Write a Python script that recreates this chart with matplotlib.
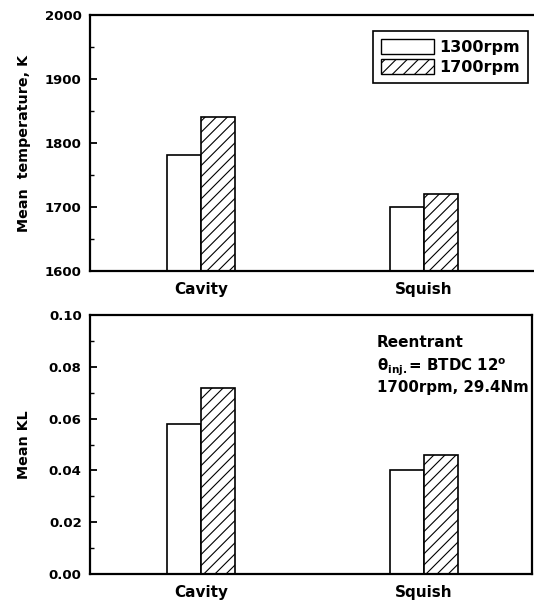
import numpy as np
import matplotlib
matplotlib.use("Agg")
import matplotlib.pyplot as plt
from matplotlib.patches import Patch
from matplotlib.ticker import MultipleLocator

plt.rcParams["font.family"] = ["DejaVu Sans"]
plt.rcParams["font.weight"] = "bold"
plt.rcParams["axes.labelweight"] = "bold"
plt.rcParams["mathtext.fontset"] = "custom"
plt.rcParams["mathtext.rm"] = "DejaVu Sans:bold"
plt.rcParams["hatch.linewidth"] = 0.8

# chamber regions and engine speeds
regions = ["Cavity", "Squish"]
speeds = ["1300rpm", "1700rpm"]

# mean temperature [K]
temp_1300 = [1782, 1700]
temp_1700 = [1840, 1720]

# mean turbulent length scale KL
kl_1300 = [0.058, 0.040]
kl_1700 = [0.072, 0.046]

temp_ticks = [1600, 1700, 1800, 1900, 2000]
kl_ticks = [0.00, 0.02, 0.04, 0.06, 0.08, 0.10]

W, H = 534, 605
fig = plt.figure(figsize=(W / 100, H / 100), dpi=100)

# axes boxes in pixels: left, top, right, bottom
ax1 = fig.add_axes([90 / W, 1 - 271 / H, (544 - 90) / W, 256 / H])
ax2 = fig.add_axes([90 / W, 1 - 574 / H, (532 - 90) / W, 259 / H])

x = np.arange(len(regions))
bw = 0.152
px_per_unit = 223.0


def draw_panel(ax, v1, v2, ticks, minor, fmt, right_px):
    ax.bar(x - bw / 2, v1, bw, color="white", edgecolor="black", linewidth=1.2)
    ax.bar(x + bw / 2, v2, bw, color="white", edgecolor="black", linewidth=1.2,
           hatch="///")
    ax.set_xlim(-0.498, -0.498 + right_px / px_per_unit)
    ax.set_ylim(ticks[0], ticks[-1])
    ax.set_yticks(ticks)
    ax.set_yticklabels([fmt.format(t) for t in ticks], fontsize=9.5)
    ax.yaxis.set_minor_locator(MultipleLocator(minor))
    ax.tick_params(axis="y", which="major", direction="in", length=5, width=1.3, pad=6)
    ax.tick_params(axis="y", which="minor", direction="in", length=3, width=1.0)
    ax.set_xticks(x)
    ax.set_xticklabels(regions, fontsize=11)
    ax.tick_params(axis="x", length=0, pad=8)
    for s in ax.spines.values():
        s.set_linewidth(1.6)


draw_panel(ax1, temp_1300, temp_1700, temp_ticks, 50, "{:.0f}", 454)
draw_panel(ax2, kl_1300, kl_1700, kl_ticks, 0.01, "{:.2f}", 442)

ax1.set_ylabel("Mean  temperature, K", fontsize=10.3)
ax2.set_ylabel("Mean KL", fontsize=10.3)
ax1.yaxis.set_label_coords(-59 / 454, 0.5)
ax2.yaxis.set_label_coords(-59 / 442, 0.5)

handles = [
    Patch(facecolor="white", edgecolor="black", linewidth=1.0),
    Patch(facecolor="white", edgecolor="black", linewidth=1.0, hatch="///"),
]
leg = fig.legend(handles, speeds, loc="upper right",
                 bbox_to_anchor=(528 / W, 1 - 31 / H), fontsize=11.5,
                 fancybox=False, framealpha=1, edgecolor="black",
                 handlelength=3.3, handleheight=1.05, handletextpad=0.35,
                 borderpad=0.5, labelspacing=0.28, borderaxespad=0)
leg.get_frame().set_linewidth(1.2)

ax2.text(377 / W, 1 - 335 / H, "Reentrant", transform=fig.transFigure,
         fontsize=11, va="top", ha="left")
ax2.text(377 / W, 1 - 357 / H, r"θ$_{\mathregular{inj.}}$= BTDC 12$^{\mathregular{o}}$",
         transform=fig.transFigure, fontsize=10.8, va="top", ha="left")
ax2.text(377 / W, 1 - 380 / H, "1700rpm, 29.4Nm", transform=fig.transFigure,
         fontsize=10.8, va="top", ha="left")

fig.savefig("out.png", dpi=100)
